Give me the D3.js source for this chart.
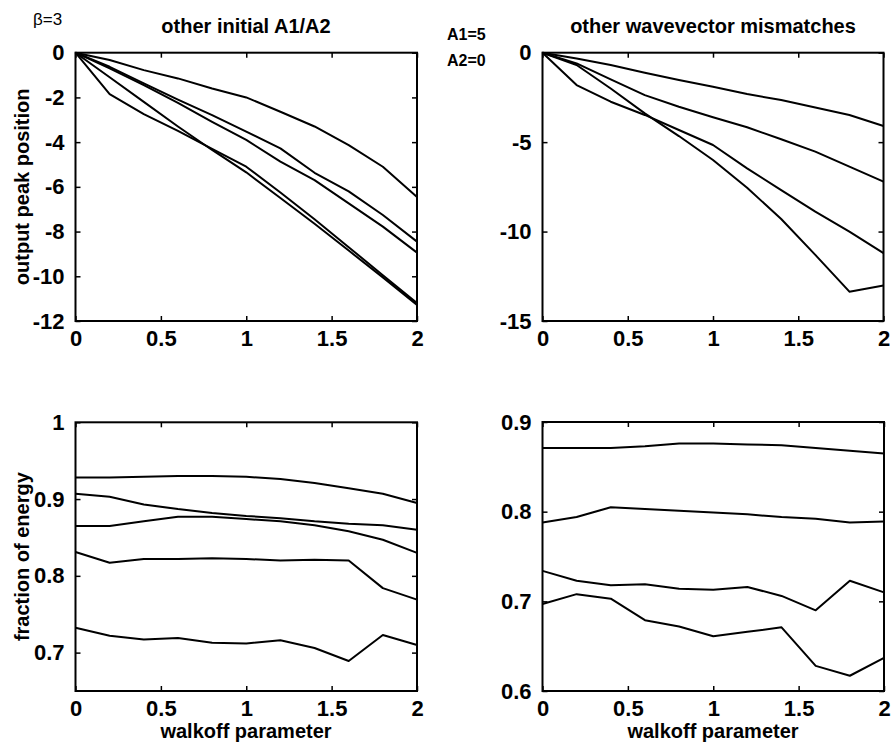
<!DOCTYPE html>
<html>
<head>
<meta charset="utf-8">
<script src="https://cdn.jsdelivr.net/npm/d3@7"></script>
<style>
  html, body { margin: 0; padding: 0; background: #fff; }
  svg { display: block; }
  text { font-family: "Liberation Sans", Arial, Helvetica, sans-serif; fill: #000; }
</style>
</head>
<body>
<svg id="chart" width="891" height="748"></svg>
<script>
// Walkoff parameter samples shared by every panel
const walkoff = [0, 0.2, 0.4, 0.6, 0.8, 1.0, 1.2, 1.4, 1.6, 1.8, 2.0];

// Output peak position, other initial A1/A2
const peakInitA = [0, -0.33, -0.78, -1.15, -1.6, -2.0, -2.64, -3.3, -4.13, -5.1, -6.45];
const peakInitB = [0, -0.63, -1.37, -2.1, -2.79, -3.53, -4.28, -5.37, -6.2, -7.26, -8.45];
const peakInitC = [0, -0.7, -1.45, -2.24, -3.09, -3.9, -4.87, -5.7, -6.74, -7.78, -8.94];
const peakInitD = [0, -1.85, -2.75, -3.5, -4.3, -5.1, -6.25, -7.45, -8.7, -9.95, -11.2];
const peakInitE = [0, -1.1, -2.2, -3.3, -4.35, -5.35, -6.5, -7.65, -8.85, -10.05, -11.28];

// Output peak position, other wavevector mismatches
const peakMisA = [0, -0.32, -0.69, -1.12, -1.53, -1.9, -2.31, -2.65, -3.06, -3.48, -4.1];
const peakMisB = [0, -0.6, -1.49, -2.37, -3.02, -3.61, -4.17, -4.84, -5.53, -6.37, -7.21];
const peakMisC = [0, -1.81, -2.74, -3.48, -4.32, -5.16, -6.47, -7.68, -8.89, -10.0, -11.2];
const peakMisD = [0, -0.69, -2.0, -3.39, -4.66, -6.0, -7.55, -9.3, -11.3, -13.36, -13.02];

// Fraction of energy, other initial A1/A2
const energyInitA = [0.928, 0.928, 0.929, 0.930, 0.930, 0.929, 0.926, 0.921, 0.914, 0.907, 0.895];
const energyInitB = [0.907, 0.903, 0.893, 0.887, 0.882, 0.878, 0.875, 0.871, 0.868, 0.866, 0.860];
const energyInitC = [0.865, 0.865, 0.871, 0.877, 0.877, 0.874, 0.871, 0.866, 0.858, 0.847, 0.830];
const energyInitD = [0.831, 0.817, 0.822, 0.822, 0.823, 0.822, 0.820, 0.821, 0.820, 0.784, 0.769];
const energyInitE = [0.7325, 0.722, 0.717, 0.719, 0.713, 0.712, 0.716, 0.706, 0.689, 0.723, 0.710];

// Fraction of energy, other wavevector mismatches
const energyMisA = [0.871, 0.871, 0.871, 0.873, 0.876, 0.876, 0.875, 0.874, 0.871, 0.868, 0.865];
const energyMisB = [0.788, 0.794, 0.805, 0.803, 0.801, 0.799, 0.797, 0.794, 0.792, 0.788, 0.789];
const energyMisC = [0.734, 0.723, 0.718, 0.719, 0.714, 0.713, 0.716, 0.706, 0.690, 0.723, 0.710];
const energyMisD = [0.697, 0.708, 0.703, 0.679, 0.672, 0.661, 0.666, 0.671, 0.628, 0.617, 0.637];

// Tick values
const xTicks = [0, 0.5, 1, 1.5, 2];
const peakInitTicks = [0, -2, -4, -6, -8, -10, -12];
const peakMisTicks = [0, -5, -10, -15];
const energyInitTicks = [0.7, 0.8, 0.9, 1];
const energyMisTicks = [0.6, 0.7, 0.8, 0.9];

// Text
const titleLeft = "other initial A1/A2";
const titleRight = "other wavevector mismatches";
const yLabelTop = "output peak position";
const yLabelBottom = "fraction of energy";
const xLabel = "walkoff parameter";
const betaNote = "β=3";
const ampNotes = ["A1=5", "A2=0"];

const panels = [
  { box: [75.5, 52.7, 417, 321], yDomain: [-12, 0], yTicks: peakInitTicks,
    series: [peakInitA, peakInitB, peakInitC, peakInitD, peakInitE] },
  { box: [542.5, 52.7, 883.5, 321], yDomain: [-15, 0], yTicks: peakMisTicks,
    series: [peakMisA, peakMisB, peakMisC, peakMisD] },
  { box: [75.5, 422.3, 417, 691], yDomain: [0.65, 1], yTicks: energyInitTicks,
    series: [energyInitA, energyInitB, energyInitC, energyInitD, energyInitE] },
  { box: [542.5, 422, 884, 691], yDomain: [0.6, 0.9], yTicks: energyMisTicks,
    series: [energyMisA, energyMisB, energyMisC, energyMisD] }
];

const svg = d3.select("#chart");
const TICK = 5;
const FONT = 20;
const TICK_FONT = 22;

panels.forEach(p => {
  const [x0, y0, x1, y1] = p.box;
  const x = d3.scaleLinear().domain([0, 2]).range([x0, x1]);
  const y = d3.scaleLinear().domain(p.yDomain).range([y1, y0]);
  const g = svg.append("g");

  // data lines
  const line = d3.line().x((d, i) => x(walkoff[i])).y(d => y(d));
  g.selectAll("path.series").data(p.series).enter().append("path")
    .attr("class", "series")
    .attr("d", line)
    .attr("fill", "none")
    .attr("stroke", "#000")
    .attr("stroke-width", 2)
    .attr("stroke-linejoin", "round");

  // axes with inward ticks on all four sides
  const bottom = g.append("g").attr("transform", `translate(0,${y1})`)
    .call(d3.axisBottom(x).tickValues(xTicks).tickSizeInner(-TICK).tickSizeOuter(0)
      .tickPadding(9).tickFormat(d => String(d)));
  const top = g.append("g").attr("transform", `translate(0,${y0})`)
    .call(d3.axisTop(x).tickValues(xTicks).tickSizeInner(-TICK).tickSizeOuter(0).tickFormat(""));
  const left = g.append("g").attr("transform", `translate(${x0},0)`)
    .call(d3.axisLeft(y).tickValues(p.yTicks).tickSizeInner(-TICK).tickSizeOuter(0)
      .tickPadding(11).tickFormat(d => String(d)));
  const right = g.append("g").attr("transform", `translate(${x1},0)`)
    .call(d3.axisRight(y).tickValues(p.yTicks).tickSizeInner(-TICK).tickSizeOuter(0).tickFormat(""));

  [bottom, top, left, right].forEach(a => {
    a.select(".domain").remove();
    a.selectAll(".tick line").attr("stroke", "#000").attr("stroke-width", 1.5);
    a.selectAll(".tick text")
      .style("font-family", "'Liberation Sans', Arial, sans-serif")
      .style("font-size", TICK_FONT + "px")
      .style("font-weight", "bold")
      .attr("fill", "#000");
  });
  bottom.selectAll(".tick text").attr("dy", "0.72em");

  // frame
  g.append("rect")
    .attr("x", x0).attr("y", y0)
    .attr("width", x1 - x0).attr("height", y1 - y0)
    .attr("fill", "none").attr("stroke", "#000").attr("stroke-width", 2);
});

// titles
svg.append("text").attr("x", 246).attr("y", 33).attr("text-anchor", "middle")
  .style("font-size", FONT + "px").style("font-weight", "bold").text(titleLeft);
svg.append("text").attr("x", 713).attr("y", 33).attr("text-anchor", "middle")
  .style("font-size", FONT + "px").style("font-weight", "bold").text(titleRight);

// notes
svg.append("text").attr("x", 33).attr("y", 25)
  .style("font-size", "17px").text(betaNote);
ampNotes.forEach((t, i) => {
  svg.append("text").attr("x", 447).attr("y", 40 + i * 26)
    .style("font-size", "16px").style("font-weight", "bold").text(t);
});

// y-axis labels
svg.append("text").attr("transform", `translate(29,${(52.7 + 321) / 2}) rotate(-90)`)
  .attr("text-anchor", "middle")
  .style("font-size", FONT + "px").style("font-weight", "bold").text(yLabelTop);
svg.append("text").attr("transform", `translate(29,${(422.3 + 691) / 2}) rotate(-90)`)
  .attr("text-anchor", "middle")
  .style("font-size", FONT + "px").style("font-weight", "bold").text(yLabelBottom);

// x-axis labels
svg.append("text").attr("x", 246).attr("y", 738).attr("text-anchor", "middle")
  .style("font-size", FONT + "px").style("font-weight", "bold").text(xLabel);
svg.append("text").attr("x", 713).attr("y", 738).attr("text-anchor", "middle")
  .style("font-size", FONT + "px").style("font-weight", "bold").text(xLabel);
</script>
</body>
</html>
